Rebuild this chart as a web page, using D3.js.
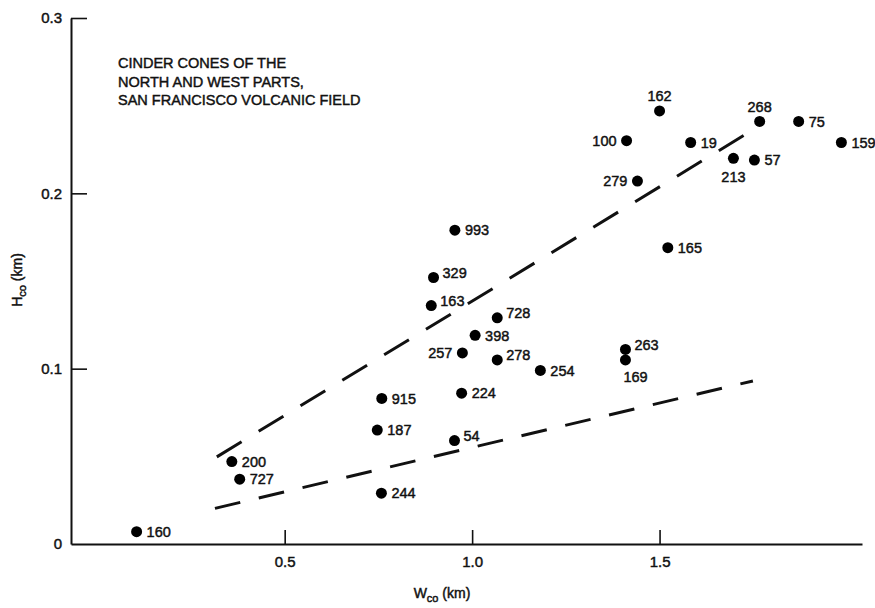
<!DOCTYPE html>
<html>
<head>
<meta charset="utf-8">
<title>Cinder cones H vs W</title>
<script src="https://cdn.jsdelivr.net/npm/d3@7"></script>
<style>
  body { margin: 0; background: #fff; }
  text { font-family: "Liberation Sans", Arial, Helvetica, sans-serif; fill: #111; stroke: #111; stroke-width: 0.45px; }
</style>
</head>
<body>
<div id="chart"></div>
<script>
// cone numbers, basal width (km), height (km)
var coneIds = ["160","200","727","244","915","187","54","224","257","398","278","728","254",
               "163","329","993","263","169","165","279","100","162","19","268","213","57","75","159"];
var widthKm = [0.105,0.359,0.380,0.758,0.759,0.747,0.953,0.972,0.974,1.008,1.067,1.067,1.182,
               0.891,0.897,0.954,1.409,1.409,1.522,1.441,1.412,1.500,1.583,1.767,1.697,1.753,1.871,1.985];
var heightKm = [0.007,0.047,0.037,0.029,0.083,0.065,0.059,0.086,0.109,0.119,0.105,0.129,0.099,
                0.136,0.152,0.179,0.111,0.105,0.169,0.207,0.230,0.247,0.229,0.241,0.220,0.219,0.241,0.229];
// where each number sits: r right, ru right-up, l left, t top, b bottom, bs bottom shifted
var labelSide = ["r","r","r","r","r","r","ru","r","l","r","ru","ru","r",
                 "ru","ru","r","ru","bs","r","l","l","t","r","t","b","r","r","r"];

// dashed envelope lines: [w, h] end points
var upperLine = [[0.319, 0.0497], [1.759, 0.2375]];
var lowerLine = [[0.314, 0.0203], [1.749, 0.0930]];

var xTicks = [0.5, 1.0, 1.5];
var yTicks = [0, 0.1, 0.2, 0.3];
var titleLines = ["CINDER CONES OF THE", "NORTH AND WEST PARTS,", "SAN FRANCISCO VOLCANIC FIELD"];

var W = 875, H = 608;
var svg = d3.select("#chart").append("svg").attr("width", W).attr("height", H);

var x = d3.scaleLinear().domain([-0.07, 2.04]).range([71, 862]);
var y = d3.scaleLinear().domain([0, 0.3]).range([544, 18]);

// axes
var xAxis = d3.axisBottom(x).tickValues(xTicks).tickFormat(d3.format(".1f"))
    .tickSizeInner(-14).tickSizeOuter(0).tickPadding(12);
var gx = svg.append("g").attr("transform", "translate(0," + y(0) + ")").call(xAxis);

var yAxis = d3.axisLeft(y).tickValues(yTicks)
    .tickFormat(function(d) { return d === 0 ? "0" : d3.format(".1f")(d); })
    .tickSizeInner(-16).tickSizeOuter(0).tickPadding(9);
var gy = svg.append("g").attr("transform", "translate(" + x(-0.07) + ",0)").call(yAxis);

[gx, gy].forEach(function(g) {
  g.select(".domain").attr("stroke", "#111").attr("stroke-width", 2);
  g.selectAll(".tick line").attr("stroke", "#111").attr("stroke-width", 1.6);
  g.selectAll(".tick text").style("font-size", "15px").attr("fill", "#111");
});
gy.selectAll(".tick").filter(function(d) { return d === 0; }).select("line").remove();

// axis titles
var yl = svg.append("text").attr("transform", "translate(22,280) rotate(-90)")
    .attr("text-anchor", "middle").style("font-size", "14px");
yl.append("tspan").text("H");
yl.append("tspan").attr("dy", 4).style("font-size", "11px").text("co");
yl.append("tspan").attr("dy", -4).text(" (km)");

var xl = svg.append("text").attr("x", 442).attr("y", 598)
    .attr("text-anchor", "middle").style("font-size", "14px");
xl.append("tspan").text("W");
xl.append("tspan").attr("dy", 4).style("font-size", "11px").text("co");
xl.append("tspan").attr("dy", -4).text(" (km)");

// title block
svg.append("g").selectAll("text").data(titleLines).enter().append("text")
    .attr("x", 118).attr("y", function(d, i) { return 68 + i * 18.5; })
    .style("font-size", "14.5px").text(function(d) { return d; });

// dashed lines
var line = d3.line().x(function(d) { return x(d[0]); }).y(function(d) { return y(d[1]); });
svg.selectAll("path.env").data([upperLine, lowerLine]).enter().append("path")
    .attr("class", "env").attr("d", line).attr("fill", "none")
    .attr("stroke", "#111").attr("stroke-width", 3)
    .attr("stroke-dasharray", function(d, i) { return i === 0 ? "29,20" : "26,19"; });

// points
var pts = coneIds.map(function(id, i) {
  return { id: id, w: widthKm[i], h: heightKm[i], side: labelSide[i] };
});

svg.append("g").selectAll("circle").data(pts).enter().append("circle")
    .attr("cx", function(d) { return x(d.w); })
    .attr("cy", function(d) { return y(d.h); })
    .attr("r", 5.5).attr("fill", "#000");

var offs = {
  r:  { dx: 10, dy: 0, a: "start" },
  ru: { dx: 9, dy: -5, a: "start" },
  l:  { dx: -10, dy: 0, a: "end" },
  t:  { dx: 0, dy: -15, a: "middle" },
  b:  { dx: 0, dy: 19, a: "middle" },
  bs: { dx: -2, dy: 17, a: "start" }
};

svg.append("g").selectAll("text").data(pts).enter().append("text")
    .attr("x", function(d) { return x(d.w) + offs[d.side].dx; })
    .attr("y", function(d) { return y(d.h) + offs[d.side].dy; })
    .attr("dy", "0.36em")
    .attr("text-anchor", function(d) { return offs[d.side].a; })
    .style("font-size", "14.5px")
    .text(function(d) { return d.id; });
</script>
</body>
</html>
